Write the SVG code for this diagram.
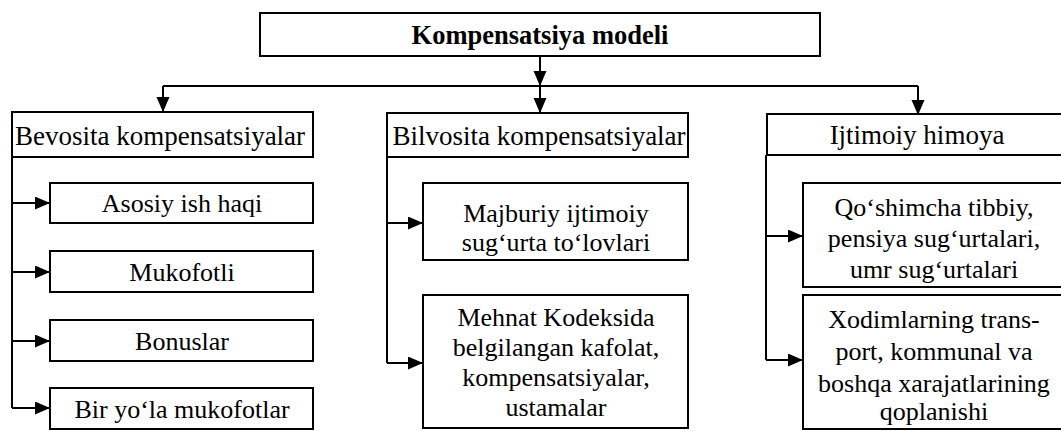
<svg xmlns="http://www.w3.org/2000/svg" width="1061" height="431" viewBox="0 0 1061 431">
<defs>
<marker id="arr" markerUnits="userSpaceOnUse" markerWidth="16" markerHeight="14" refX="15" refY="6.5" orient="auto">
<path d="M0,0 L15,6.5 L0,13 Z" fill="#000"/>
</marker>
<style>
rect{fill:#fff;stroke:#000;stroke-width:2}
text{font-family:"Liberation Serif","Times New Roman",serif;font-size:26px;fill:#000;text-anchor:middle}
.t{font-weight:bold;font-size:26.5px}
.h{font-size:27px}
#connectors path{fill:none;stroke:#000;stroke-width:2}
.a{marker-end:url(#arr)}
</style>
</defs>
<rect x="0" y="0" width="1061" height="431" style="stroke:none;fill:#fff"/>
<g id="connectors">
<path class="a" d="M540,56 V86"/>
<path d="M163,86 H918"/>
<path class="a" d="M163,86 V112"/>
<path class="a" d="M540,86 V113"/>
<path class="a" d="M918,86 V115"/>
<path d="M12,157 V408"/>
<path class="a" d="M12,203 H50"/>
<path class="a" d="M12,272 H50"/>
<path class="a" d="M12,341 H50"/>
<path class="a" d="M12,408 H50"/>
<path d="M387,157 V363"/>
<path class="a" d="M387,223 H423"/>
<path class="a" d="M387,363 H423"/>
<path d="M766,155 V360"/>
<path class="a" d="M766,236 H803"/>
<path class="a" d="M766,360 H803"/>
</g>
<g id="top">
<rect x="260" y="13" width="560" height="43"/>
<text class="t" x="540" y="44">Kompensatsiya modeli</text>
</g>
<g id="bevosita">
<rect x="12" y="112" width="301" height="45"/>
<text class="h" x="160" y="145">Bevosita kompensatsiyalar</text>
</g>
<g id="bilvosita">
<rect x="387" y="113" width="301" height="44"/>
<text class="h" x="539" y="145">Bilvosita kompensatsiyalar</text>
</g>
<g id="ijtimoiy">
<rect x="767" y="114" width="300" height="41"/>
<text class="h" x="917" y="144">Ijtimoiy himoya</text>
</g>
<g id="asosiy">
<rect x="50" y="183" width="263" height="40"/>
<text x="182" y="212">Asosiy ish haqi</text>
</g>
<g id="mukofotli">
<rect x="50" y="251" width="263" height="41"/>
<text x="182" y="281">Mukofotli</text>
</g>
<g id="bonuslar">
<rect x="50" y="320" width="263" height="41"/>
<text x="182" y="350">Bonuslar</text>
</g>
<g id="biryola">
<rect x="50" y="388" width="263" height="41"/>
<text x="182" y="418">Bir yo‘la mukofotlar</text>
</g>
<g id="majburiy">
<rect x="423" y="183" width="265" height="77"/>
<text x="556" y="222">Majburiy ijtimoiy</text>
<text x="556" y="251">sug‘urta to‘lovlari</text>
</g>
<g id="mehnat">
<rect x="423" y="295" width="265" height="133"/>
<text x="556" y="326">Mehnat Kodeksida</text>
<text x="556" y="356">belgilangan kafolat,</text>
<text x="556" y="386">kompensatsiyalar,</text>
<text x="556" y="416">ustamalar</text>
</g>
<g id="qoshimcha">
<rect x="803" y="183" width="264" height="104"/>
<text x="934" y="216">Qo‘shimcha tibbiy,</text>
<text x="934" y="247">pensiya sug‘urtalari,</text>
<text x="934" y="278">umr sug‘urtalari</text>
</g>
<g id="xodim">
<rect x="803" y="295" width="264" height="134"/>
<text x="934" y="328">Xodimlarning trans-</text>
<text x="934" y="360">port, kommunal va</text>
<text x="934" y="392">boshqa xarajatlarining</text>
<text x="934" y="420">qoplanishi</text>
</g>
</svg>
